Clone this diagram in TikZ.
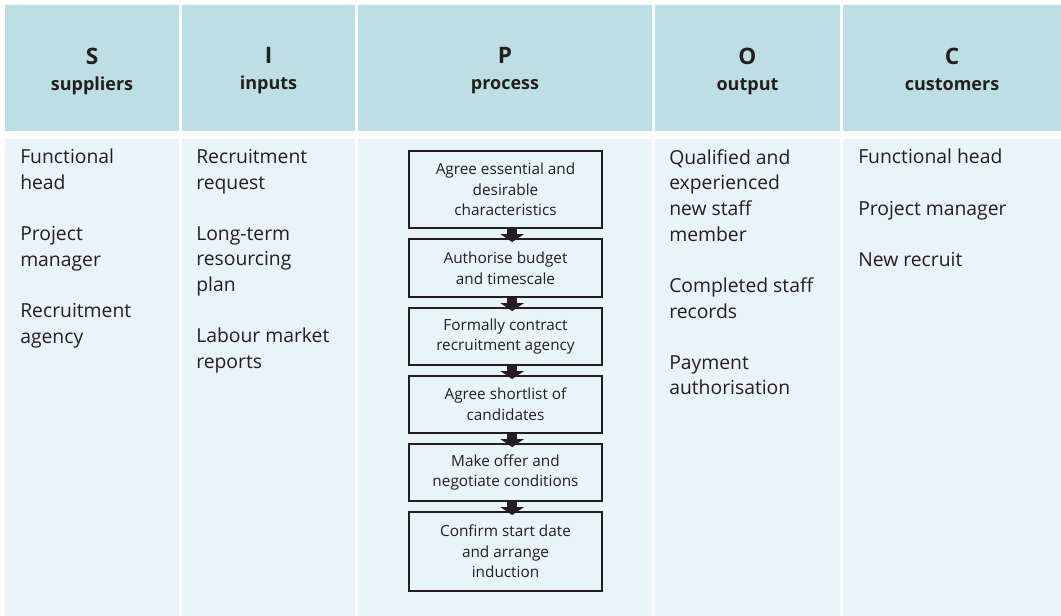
\documentclass[tikz,border=0pt]{standalone}
\usepackage{fontspec}
\setmainfont{Open Sans}
\usetikzlibrary{arrows.meta}
\definecolor{headcol}{HTML}{BDDFE4}
\definecolor{bodycol}{HTML}{E8F4F6}
\definecolor{inkcol}{HTML}{231F20}
\begin{document}
\begin{tikzpicture}[x=.75pt,y=-.75pt,every node/.style={text=inkcol},
 hd/.style={align=center,font=\bfseries\fontsize{13.5}{19.5}\selectfont},
 col/.style={anchor=north west,inner sep=0,align=left,font=\fontsize{14.5}{19.3}\selectfont},
 pbox/.style={draw=inkcol,line width=1.4pt,fill=bodycol,minimum width=144.75pt,align=center,inner sep=0,font=\fontsize{11.5}{15.5}\selectfont},
 flow/.style={draw=inkcol,line width=7.5pt,-{Triangle[length=6pt,width=17.5pt]},shorten >=-3pt}]
\useasboundingbox[fill=white] (0,0) rectangle (1061,616);
\fill[headcol] (5,5) rectangle (179,131) (182,5) rectangle (355,131) (358,5) rectangle (652,131) (655,5) rectangle (840,131) (843,5) rectangle (1061,131);
\fill[bodycol] (5,139) rectangle (179,616) (182,139) rectangle (355,616) (358,139) rectangle (652,616) (655,139) rectangle (840,616) (843,139) rectangle (1061,616);
\path (92,71) node[hd](s){{\fontsize{17}{19.5}\selectfont S}\\suppliers\vphantom{p}} ++(176.5,0) node[hd](i){{\fontsize{17}{19.5}\selectfont I}\\inputs\vphantom{p}} ++(236.5,0) node[hd](p){{\fontsize{17}{19.5}\selectfont P}\\process\vphantom{p}} ++(242.5,0) node[hd](o){{\fontsize{17}{19.5}\selectfont O}\\output\vphantom{p}} ++(204.5,0) node[hd](c){{\fontsize{17}{19.5}\selectfont C}\\customers\vphantom{p}};
\node[col] (sup) at (20,149) {Functional\\head\\[19pt]Project\\manager\\[19pt]Recruitment\\agency};
\node[col] (inp) at (196,149) {Recruitment\\request\\[19pt]Long-term\\resourcing\\plan\\[19pt]Labour market\\reports};
\node[col] (out) at (669,149) {Qualified and\\experienced\\new staff\\member\\[19pt]Completed staff\\records\\[19pt]Payment\\authorisation};
\node[col] (cus) at (858,149) {Functional head\\[19pt]Project manager\\[19pt]New recruit};
\path (505.5,189.5) node[pbox,minimum height=57.75pt](p1){Agree essential and\\desirable\\characteristics}
 ++(0,78.5) node[pbox,minimum height=43.5pt](p2){Authorise budget\\and timescale}
 ++(0,68.5) node[pbox,minimum height=42.75pt](p3){Formally contract\\recruitment agency}
 ++(0,68) node[pbox,minimum height=42.75pt](p4){Agree shortlist of\\candidates}
 ++(0,68) node[pbox,minimum height=42.75pt](p5){Make offer and\\negotiate conditions}
 ++(0,79) node[pbox,minimum height=59.25pt](p6){Confirm start date\\and arrange\\induction};
\draw[flow] ([xshift=5pt]p1.south) -- ([xshift=5pt]p2.north);
\draw[flow] ([xshift=5pt]p2.south) -- ([xshift=5pt]p3.north);
\draw[flow] ([xshift=5pt]p3.south) -- ([xshift=5pt]p4.north);
\draw[flow] ([xshift=5pt]p4.south) -- ([xshift=5pt]p5.north);
\draw[flow] ([xshift=5pt]p5.south) -- ([xshift=5pt]p6.north);
\end{tikzpicture}
\end{document}
